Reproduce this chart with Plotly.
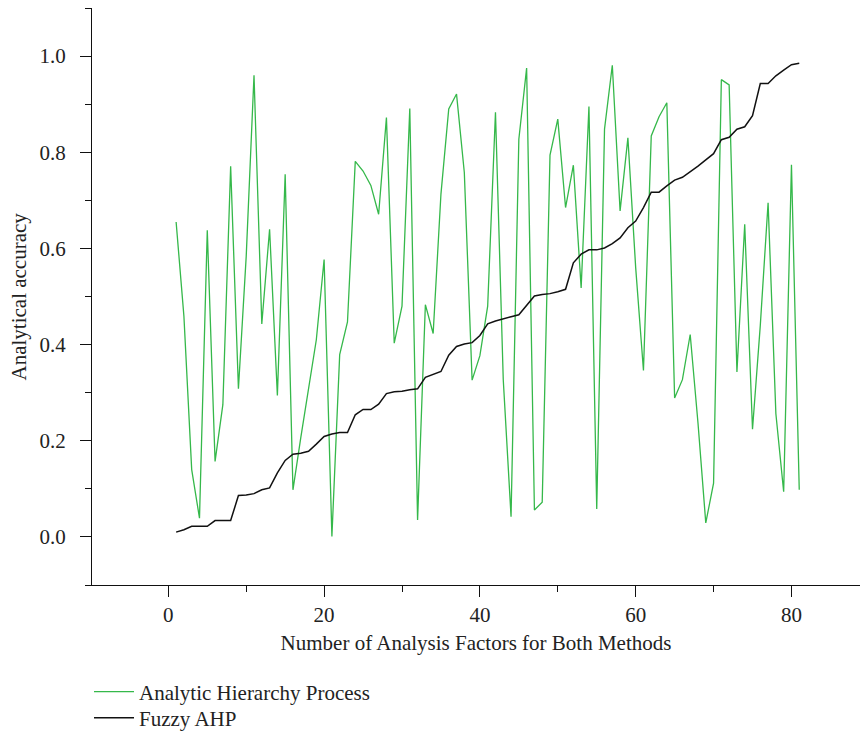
import plotly.graph_objects as go

factors = list(range(1, 82))

ahp = [0.655, 0.459, 0.140, 0.039, 0.638, 0.157, 0.275, 0.771, 0.308, 0.584,
       0.960, 0.443, 0.640, 0.294, 0.754, 0.098, 0.206, 0.313, 0.410, 0.577,
       0.001, 0.379, 0.447, 0.781, 0.761, 0.731, 0.671, 0.872, 0.403, 0.480,
       0.891, 0.035, 0.483, 0.423, 0.713, 0.890, 0.921, 0.758, 0.326, 0.377,
       0.480, 0.883, 0.327, 0.042, 0.827, 0.975, 0.056, 0.072, 0.794, 0.869,
       0.685, 0.773, 0.518, 0.895, 0.058, 0.848, 0.981, 0.678, 0.830, 0.560,
       0.346, 0.834, 0.874, 0.903, 0.289, 0.327, 0.421, 0.237, 0.029, 0.112,
       0.951, 0.940, 0.343, 0.650, 0.224, 0.440, 0.695, 0.256, 0.094, 0.774,
       0.098]

fuzzy = [0.010, 0.015, 0.022, 0.022, 0.022, 0.034, 0.034, 0.034, 0.086, 0.087,
         0.090, 0.098, 0.102, 0.133, 0.159, 0.172, 0.174, 0.178, 0.193, 0.209,
         0.214, 0.217, 0.217, 0.254, 0.265, 0.265, 0.276, 0.298, 0.302, 0.303,
         0.306, 0.308, 0.332, 0.338, 0.344, 0.378, 0.396, 0.401, 0.404, 0.419,
         0.443, 0.449, 0.454, 0.458, 0.462, 0.481, 0.501, 0.504, 0.506, 0.510,
         0.515, 0.570, 0.588, 0.597, 0.597, 0.601, 0.610, 0.622, 0.643, 0.657,
         0.685, 0.717, 0.717, 0.730, 0.742, 0.748, 0.759, 0.771, 0.784, 0.797,
         0.826, 0.831, 0.848, 0.853, 0.876, 0.943, 0.943, 0.959, 0.971, 0.982,
         0.985]

x_tickvals = [0, 20, 40, 60, 80]
y_tickvals = [0.0, 0.2, 0.4, 0.6, 0.8, 1.0]
y_ticktext = ["0.0", "0.2", "0.4", "0.6", "0.8", "1.0"]

FONT = "Liberation Serif, Times New Roman, serif"
FS = 21

fig = go.Figure()
fig.add_trace(go.Scatter(x=factors, y=ahp, mode="lines",
                         name="Analytic Hierarchy Process", legend="legend",
                         line=dict(color="#35b84a", width=1.3)))
fig.add_trace(go.Scatter(x=factors, y=fuzzy, mode="lines",
                         name="Fuzzy AHP", legend="legend2",
                         line=dict(color="#111111", width=1.5)))

leg_common = dict(xref="container", yref="container", x=89 / 860,
                  xanchor="left", yanchor="middle", orientation="v", itemwidth=40,
                  font=dict(family=FONT, size=FS, color="#222222"),
                  bgcolor="rgba(0,0,0,0)")

fig.update_layout(
    width=860, height=732,
    margin=dict(l=92, r=0, t=8, b=147, autoexpand=False),
    paper_bgcolor="white", plot_bgcolor="white",
    font=dict(family=FONT, size=FS, color="#222222"),
    showlegend=True,
    legend=dict(y=1 - 692 / 732, **leg_common),
    legend2=dict(y=1 - 718 / 732, **leg_common),
)
fig.add_annotation(text="Analytical accuracy", textangle=-90,
                   xref="paper", yref="paper", x=-(92 - 18) / 768, y=0.5,
                   xanchor="center", yanchor="middle", showarrow=False,
                   font=dict(family=FONT, size=FS, color="#222222"))
fig.update_xaxes(range=[-9.8, 88.8], tickvals=x_tickvals, showgrid=False, zeroline=False,
                 showline=True, linecolor="#111111", linewidth=1.3,
                 ticks="outside", ticklen=11, tickwidth=1.2, tickcolor="#111111",
                 minor=dict(dtick=10, tick0=-10, ticks="outside", ticklen=6, tickwidth=1.2, tickcolor="#111111"),
                 tickfont=dict(family=FONT, size=FS),
                 title=dict(text="Number of Analysis Factors for Both Methods",
                            font=dict(family=FONT, size=FS), standoff=8))
fig.update_yaxes(range=[-0.1, 1.1], tickvals=y_tickvals, ticktext=y_ticktext,
                 showgrid=False, zeroline=False,
                 showline=True, linecolor="#111111", linewidth=1.3,
                 ticks="outside", ticklen=11, tickwidth=1.2, tickcolor="#111111",
                 minor=dict(dtick=0.2, tick0=0.1, ticks="outside", ticklen=6, tickwidth=1.2, tickcolor="#111111"),
                 tickfont=dict(family=FONT, size=FS), ticklabelstandoff=10)

fig.write_html("out.html")
